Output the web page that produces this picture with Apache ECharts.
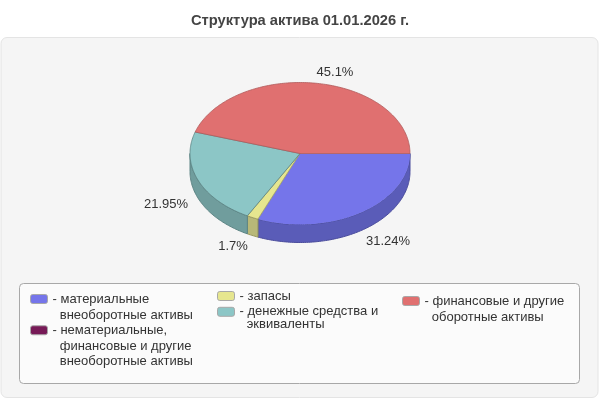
<!DOCTYPE html>
<html><head><meta charset="utf-8">
<style>html,body{margin:0;padding:0;background:#fff}#c{width:600px;height:400px}</style>
<script src="https://cdn.jsdelivr.net/npm/echarts@6/dist/echarts.min.js"></script>
</head><body><div id="c"></div>
<script>
const categories = ['материальные внеоборотные активы','нематериальные, финансовые и другие внеоборотные активы','запасы','денежные средства и эквиваленты','финансовые и другие оборотные активы'];
const legendLines = [['материальные','внеоборотные активы'],['нематериальные,','финансовые и другие','внеоборотные активы'],['запасы'],['денежные средства и','эквиваленты'],['финансовые и другие','оборотные активы']];
const values = [31.24,0,1.7,21.95,45.1];
const labels = ['31.24%','','1.7%','21.95%','45.1%'];
const topColors = ['#7575ea','#771a57','#e6e68f','#8cc6c6','#e07070'];
const sideColors = ['#5a5cb8','#5a1442','#b8b878','#709d9d','#b05a5a'];
const edgeColors = ['#4a4c9c','#4a1038','#98985f','#5c8484','#b05a5a'];
const labelPos = [[388,241.5],[0,0],[233,246],[166,204.5],[335,72]];
const legendPos = [[30,275],[30,291],[217,288],[217,293],[402,277]];
const legendLH = [16,15.7,16,12.3,16];

const PIE = {cx:300, cy:153.5, rx:110, ry:71, depth:18};
const total = values.reduce((a,b)=>a+b,0);
const starts = values.map((v,i)=>values.slice(0,i).reduce((a,b)=>a+b,0));
const pt = (deg,dy)=>{const r=deg*Math.PI/180;return [PIE.cx+PIE.rx*Math.cos(r),PIE.cy+PIE.ry*Math.sin(r)+(dy||0)];};
const arc = (a,b,dy)=>{const n=Math.max(1,Math.ceil(b-a)),o=[];for(let k=0;k<=n;k++)o.push(pt(a+(b-a)*k/n,dy));return o;};

function sliceRender(idx){
  return function(params,api){
    const v=api.value(0);
    if(!v) return {type:'group',children:[]};
    const a=starts[idx]/total*360, b=a+v/total*360;
    const children=[];
    const wa=Math.max(a,0), wb=Math.min(b,180);
    if(wb>wa){
      const f=arc(wa,wb,0), k=arc(wa,wb,PIE.depth).reverse();
      children.push({type:'polygon',shape:{points:f.concat(k)},style:{fill:sideColors[idx],stroke:edgeColors[idx],lineWidth:1},z2:1});
    }
    children.push({type:'polygon',shape:{points:[[PIE.cx,PIE.cy]].concat(arc(a,b,0))},style:{fill:topColors[idx],stroke:edgeColors[idx],lineWidth:idx===0?0:0.8},z2:2});
    children.push({type:'text',x:labelPos[idx][0],y:labelPos[idx][1],style:{text:labels[idx],fill:'#333',font:'13px "Liberation Sans",Arial,sans-serif',align:'center',verticalAlign:'middle'},z2:5});
    return {type:'group',children};
  };
}

const legends = categories.map((name,i)=>{
  const ls=legendLines[i];
  const pad=new Array(ls.length-1).fill(' ');
  const txt=pad.concat(ls.map((l,j)=>(j===0?'- ':'\u00a0\u00a0')+l)).join('\n');
  return {
    show:true,selectedMode:false,orient:'vertical',left:legendPos[i][0],top:legendPos[i][1],
    padding:0,itemWidth:17,itemHeight:9,itemGap:0,
    data:[{name,icon:'roundRect',itemStyle:{color:topColors[i],borderColor:'#a8a8a8',borderWidth:1}}],
    formatter:()=>txt,
    textStyle:{fontFamily:'"Liberation Sans",Arial,sans-serif',fontSize:13,color:'#333',lineHeight:legendLH[i],padding:[0,0,0,0]}
  };
});

const chart=echarts.init(document.getElementById('c'),null,{renderer:'canvas'});
chart.setOption({
  animation:false,
  backgroundColor:'#fff',
  title:{text:'Структура актива 01.01.2026 г.',left:'center',top:13,padding:0,textStyle:{fontFamily:'"Liberation Sans",Arial,sans-serif',fontSize:14.7,fontWeight:'bold',color:'#444'}},
  legend:legends,
  graphic:[
    {type:'rect',silent:true,z:-10,shape:{x:1,y:37.5,width:597,height:360,r:6},style:{fill:'#f5f5f5',stroke:'#e4e4e4',lineWidth:1}},
    {type:'rect',silent:true,z:-9,shape:{x:19.5,y:283.5,width:560,height:100,r:4},style:{fill:'#fbfbfb',stroke:'#a8a8a8',lineWidth:1}}
  ],
  series:categories.map((name,i)=>({
    type:'custom',name,coordinateSystem:'none',silent:true,
    itemStyle:{color:topColors[i]},
    data:[[values[i]]],
    renderItem:sliceRender(i)
  }))
});
</script></body></html>
